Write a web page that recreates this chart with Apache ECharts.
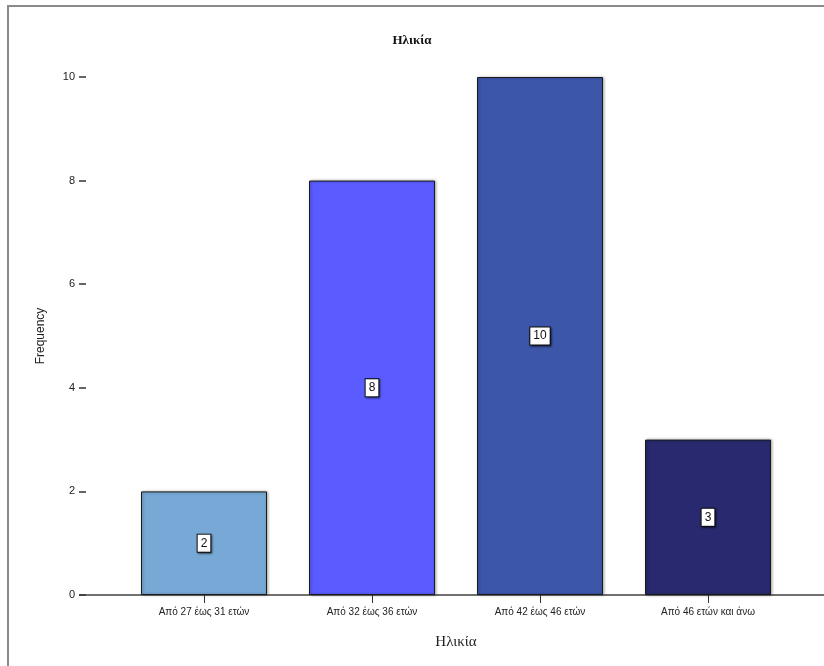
<!DOCTYPE html>
<html>
<head>
<meta charset="utf-8">
<script src="https://cdn.jsdelivr.net/npm/echarts@6/dist/echarts.min.js"></script>
<style>
html,body{margin:0;padding:0;background:#fff;}
#frame{position:absolute;left:7px;top:5px;width:830px;height:680px;border:2px solid #8a8a8a;box-sizing:border-box;}
#c{position:absolute;left:0;top:0;width:824px;height:666px;}
</style>
</head>
<body>
<div id="frame"></div>
<div id="c"></div>
<script>
const categories = ['Από 27 έως 31 ετών', 'Από 32 έως 36 ετών', 'Από 42 έως 46 ετών', 'Από 46 ετών και άνω'];
const frequencies = [2, 8, 10, 3];
const barColors = ['#78a8d6', '#5a5cff', '#3c56a9', '#28296f'];
const yTicks = [0, 2, 4, 6, 8, 10];

const chart = echarts.init(document.getElementById('c'));
const font = 'Liberation Sans';
chart.setOption({
  animation: false,
  backgroundColor: 'transparent',
  title: {
    text: 'Ηλικία',
    left: 'center',
    top: 29,
    textStyle: {fontFamily: 'Liberation Serif', fontSize: 13, fontWeight: 'bold', color: '#111'}
  },
  grid: [
    {left: 120, right: 32, top: 77, bottom: 71},
    {left: 80, right: 0, top: 77, bottom: 71}
  ],
  xAxis: [
    {
      type: 'category', gridIndex: 0, data: categories,
      axisLine: {show: false},
      axisTick: {show: true, alignWithLabel: true, length: 8, lineStyle: {color: '#333'}},
      axisLabel: {fontFamily: font, fontSize: 10, color: '#222', margin: 12},
      name: 'Ηλικία', nameLocation: 'middle', nameGap: 40,
      nameTextStyle: {fontFamily: 'Liberation Serif', fontSize: 15, color: '#222'}
    },
    {
      type: 'value', gridIndex: 1, min: 0, max: 1,
      axisLine: {show: true, onZero: false, lineStyle: {color: '#707070', width: 2}},
      axisTick: {show: false}, axisLabel: {show: false}, splitLine: {show: false}
    }
  ],
  yAxis: [
    {
      type: 'value', gridIndex: 0, min: 0, max: 10, interval: 2, offset: 41,
      axisLine: {show: false},
      axisTick: {show: true, inside: true, length: 7, lineStyle: {color: '#333', width: 1.5}},
      axisLabel: {fontFamily: font, fontSize: 11, color: '#222', margin: 4,
        formatter: v => yTicks.includes(v) ? String(v) : ''},
      splitLine: {show: false},
      name: 'Frequency', nameLocation: 'middle', nameGap: 32, nameRotate: 90,
      nameTextStyle: {fontFamily: font, fontSize: 12, color: '#222'}
    },
    {
      type: 'value', gridIndex: 1, show: false, min: 0, max: 1
    }
  ],
  series: [{
    type: 'bar',
    xAxisIndex: 0, yAxisIndex: 0,
    barWidth: '75%',
    data: frequencies.map((v, i) => ({
      value: v,
      itemStyle: {color: barColors[i]}
    })),
    itemStyle: {borderColor: '#1a1a1a', borderWidth: 1,
      shadowColor: 'rgba(0,0,0,0.35)', shadowBlur: 3, shadowOffsetX: 1, shadowOffsetY: 0},
    label: {
      show: true, position: 'inside',
      fontFamily: font, fontSize: 12, color: '#111',
      backgroundColor: '#fff', borderColor: '#111', borderWidth: 1,
      padding: [3, 3, 2, 3],
      shadowColor: 'rgba(0,0,0,0.5)', shadowBlur: 2, shadowOffsetX: 1, shadowOffsetY: 1
    }
  }]
});
</script>
</body>
</html>
